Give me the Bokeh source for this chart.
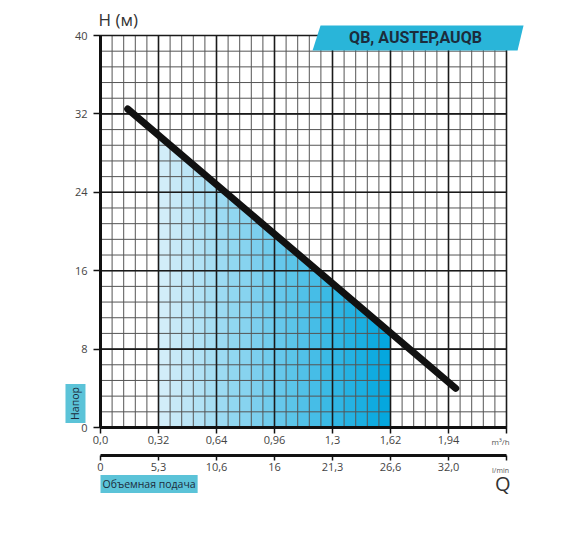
import numpy as np
from bokeh.plotting import figure
from bokeh.models import FixedTicker, LinearAxis, Label, Range1d
from bokeh.embed import file_html
from bokeh.resources import INLINE

# pump curve (m3/h vs m)
q_curve = [0.15, 1.96]
h_curve = [32.5, 4.0]

# working zone under the curve
q_zone = [0.32, 1.60]

x_ticks = [0, 0.32, 0.64, 0.96, 1.28, 1.60, 1.92, 2.24]
x_labels_m3h = ["0,0", "0,32", "0,64", "0,96", "1,3", "1,62", "1,94", ""]
x_labels_lmin = ["0", "5,3", "10,6", "16", "21,3", "26,6", "32,0", ""]
y_ticks = [0, 8, 16, 24, 32, 40]
x_minor = [i * 0.064 for i in range(36)]
y_minor = [i * 1.6 for i in range(26)]

FONT = "Open Sans"
CYAN = "#29b5d9"
BOX = "#5bc3d8"
INK = "#1c2c3c"

# the frame covers the whole canvas; the chart area is 0..2.24 x 0..40 inside it
px_x, px_y = 181.25, 9.8
W, H = 560, 530
p = figure(width=W, height=H, output_backend="svg", toolbar_location=None,
           x_range=Range1d(-100 / px_x, (W - 100) / px_x),
           y_range=Range1d(-(H - 427) / px_y, 427 / px_y),
           x_axis_type=None, y_axis_type=None,
           min_border=0, outline_line_color=None,
           background_fill_color="white", border_fill_color="white")
p.grid.visible = False

x0, x1 = x_ticks[0], x_ticks[-1]
y0, y1 = y_ticks[0], y_ticks[-1]

# gradient fill under the curve: one shade per minor column
edges = [q for q in x_minor if q_zone[0] - 1e-9 <= q <= q_zone[1] + 1e-9]
n = len(edges) - 1
c0 = np.array([216, 239, 250])
c1 = np.array([0, 166, 222])
xs, ys, cols = [], [], []
for i in range(n):
    a, b = edges[i], edges[i + 1]
    ta, tb = np.interp(a, q_curve, h_curve), np.interp(b, q_curve, h_curve)
    xs.append([a, b, b, a])
    ys.append([0, 0, tb, ta])
    t = (i + 0.5) / n
    c = (c0 + (c1 - c0) * t).astype(int)
    cols.append("#%02x%02x%02x" % tuple(c))
p.patches(xs, ys, fill_color=cols, line_color=cols, line_width=0.5)

# grid
p.segment(x0=x_minor, y0=[y0] * len(x_minor), x1=x_minor, y1=[y1] * len(x_minor),
          line_color="#555555", line_width=1)
p.segment(x0=[x0] * len(y_minor), y0=y_minor, x1=[x1] * len(y_minor), y1=y_minor,
          line_color="#555555", line_width=1)
p.segment(x0=x_ticks, y0=[y0] * len(x_ticks), x1=x_ticks, y1=[y1] * len(x_ticks),
          line_color="#1a1a1a", line_width=1.6)
p.segment(x0=[x0] * len(y_ticks), y0=y_ticks, x1=[x1] * len(y_ticks), y1=y_ticks,
          line_color="#1a1a1a", line_width=1.6)

p.line(q_curve, h_curve, line_width=7, line_color="#111", line_cap="round")


def style(ax, out, standoff):
    ax.axis_line_width = 3
    ax.axis_line_color = "#111"
    ax.major_tick_line_color = "#111"
    ax.major_tick_line_width = 1.5
    ax.major_tick_out = out
    ax.major_tick_in = 0
    ax.minor_tick_line_color = None
    ax.major_label_text_font = FONT
    ax.major_label_text_font_size = "11px"
    ax.major_label_text_color = "#444"
    ax.major_label_standoff = standoff


ay = LinearAxis(fixed_location=0, bounds=(y0, y1), ticker=FixedTicker(ticks=y_ticks))
style(ay, 7, 6)
p.add_layout(ay, "left")

ax1 = LinearAxis(fixed_location=0, bounds=(x0, x1), ticker=FixedTicker(ticks=x_ticks),
                 major_label_overrides={t: s for t, s in zip(x_ticks, x_labels_m3h)})
style(ax1, 6, 2)
p.add_layout(ax1, "below")

ax2 = LinearAxis(fixed_location=-(455 - 427) / px_y, bounds=(x0, x1),
                 ticker=FixedTicker(ticks=x_ticks),
                 major_label_overrides={t: s for t, s in zip(x_ticks, x_labels_lmin)})
style(ax2, 5, 2)
p.add_layout(ax2, "below")

# banner
p.patch([1.170, 1.214, 2.334, 2.301], [38.47, 41.02, 41.02, 38.47],
        fill_color=CYAN, line_color=None)
p.add_layout(Label(x=1.738, y=39.75, text="QB, AUSTEP,AUQB", text_align="center",
                   text_baseline="middle", text_font="Roboto",
                   text_font_style="bold", text_font_size="16px", text_color=INK))

# titles and labels
p.add_layout(Label(x=-0.011, y=40.5, text="H (м)", text_font=FONT, text_font_size="17px",
                   text_color="#333", text_baseline="bottom"))
p.add_layout(Label(x=-0.138, y=2.45, text="Напор", angle=np.pi / 2, text_align="center",
                   text_baseline="middle", text_font=FONT, text_font_size="10.5px",
                   text_color=INK, background_fill_color=BOX, padding=3))
p.add_layout(Label(x=0.268, y=-5.77, text="Объемная подача", text_align="center",
                   text_baseline="middle", text_font=FONT, text_font_size="10.5px",
                   text_color=INK, background_fill_color=BOX, padding=2))
p.add_layout(Label(x=2.207, y=-1.43, text="m³/h", text_align="center", text_baseline="middle",
                   text_font=FONT, text_font_size="8px", text_color="#555"))
p.add_layout(Label(x=2.207, y=-4.39, text="l/min", text_align="center", text_baseline="middle",
                   text_font=FONT, text_font_size="7px", text_color="#555"))
p.add_layout(Label(x=2.22, y=-5.7, text="Q", text_align="center", text_baseline="middle",
                   text_font=FONT, text_font_size="20px", text_color="#333"))

open("out.html", "w").write(file_html(p, INLINE))
